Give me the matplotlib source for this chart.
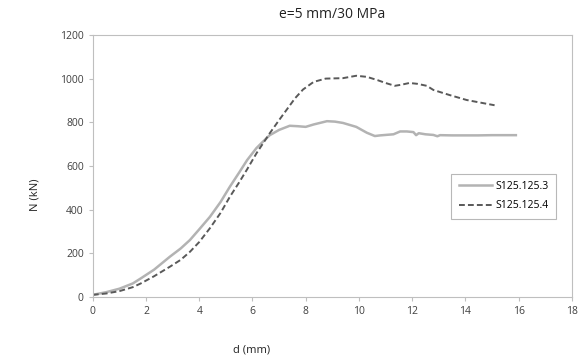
import matplotlib
matplotlib.use("Agg")
import matplotlib.pyplot as plt

plt.rcParams['font.family'] = ['Open Sans', 'DejaVu Sans']

# S125.125.3 (solid)
d3 = [0, 0.5, 1, 1.5, 1.8, 2.3, 2.9, 3.3, 3.65, 4.0, 4.4, 4.8, 5.15, 5.5, 5.8, 6.15, 6.4, 6.65,
      7.0, 7.4, 7.7, 8.0, 8.3, 8.8, 9.1, 9.4, 9.9, 10.3, 10.6, 10.8, 11.0, 11.3, 11.55,
      11.8, 12.05, 12.15, 12.25, 12.5, 12.8, 12.95, 13.05, 13.5, 14, 14.5, 15, 15.5, 15.9]
n3 = [10, 22, 38, 62, 85, 125, 185, 222, 261, 310, 367, 435, 505, 570, 627, 682, 712, 741,
      765, 784, 782, 779, 790, 805, 803, 797, 779, 752, 737, 740, 742, 745, 758,
      758, 755, 741, 750, 745, 742, 736, 741, 740, 740, 740, 741, 741, 741]

# S125.125.4 (dashed)
d4 = [0, 0.5, 1, 1.5, 1.8, 2.3, 2.9, 3.3, 3.65, 4.0, 4.4, 4.8, 5.15, 5.5, 5.8, 6.15, 6.65,
      7.0, 7.3, 7.6, 7.9, 8.3, 8.75, 9.4, 9.9, 10.3, 10.7, 11.0, 11.35, 11.6, 11.9, 12.2,
      12.55, 12.8, 13.4, 14.05, 14.7, 15.1]
n4 = [10, 16, 27, 45, 62, 95, 139, 170, 207, 252, 315, 385, 459, 525, 585, 658, 750,
      810, 860, 910, 950, 985, 1000, 1002, 1013, 1008, 993, 980, 967, 972, 980, 976,
      967, 948, 925, 902, 887, 878]

title = "e=5 mm/30 MPa"
labels = ["S125.125.3", "S125.125.4"]
xticks = list(range(0, 19, 2))
yticks = list(range(0, 1201, 200))

fig = plt.figure(figsize=(5.84, 3.6), dpi=100)
ax = fig.add_axes([0.159, 0.175, 0.82, 0.728])

ax.plot(d3, n3, color="#b3b3b3", lw=1.8, label=labels[0])
ax.plot(d4, n4, color="#595959", lw=1.4, ls=(0, (3, 1.6)), label=labels[1])

ax.set_xlim(0, 18)
ax.set_ylim(0, 1200)
ax.set_xticks(xticks)
ax.set_yticks(yticks)
ax.tick_params(labelsize=7.5, colors="#bfbfbf", labelcolor="#404040", length=3, width=0.8)
for s in ax.spines.values():
    s.set_color("#bfbfbf")
    s.set_linewidth(0.8)

ax.set_title(title, fontsize=10, color="#222222", pad=12)
fig.text(0.06, 0.46, "N (kN)", rotation=90, fontsize=8, color="#222222", ha="center", va="center")
fig.text(0.43, 0.028, "d (mm)", fontsize=8, color="#222222", ha="center", va="center")

leg = ax.legend(loc="upper left", bbox_to_anchor=(0.738, 0.49), fontsize=7.5, frameon=True,
                fancybox=False, edgecolor="#a6a6a6", handlelength=3.2, handletextpad=0.3,
                borderpad=0.7, labelspacing=0.8)
leg.get_frame().set_linewidth(0.8)

fig.savefig("out.png", dpi=100)
